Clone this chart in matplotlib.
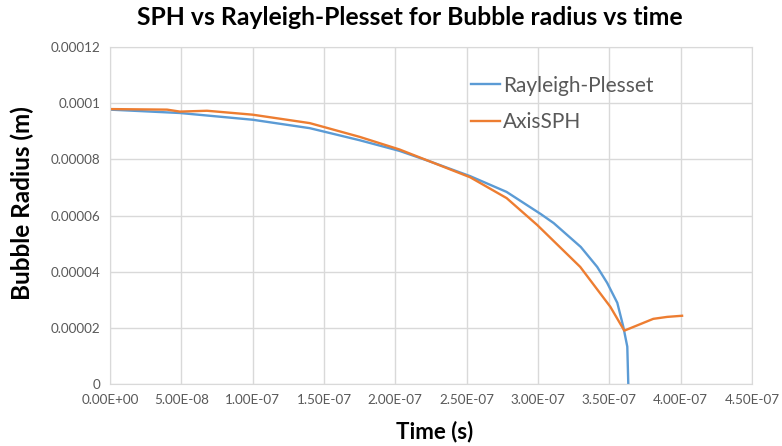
import matplotlib
matplotlib.use("Agg")
import matplotlib.pyplot as plt
from matplotlib.ticker import FuncFormatter

# Rayleigh-Plesset solution
rp_time = [0, 0.49e-7, 1.0e-7, 1.4e-7, 1.75e-7, 2.03e-7, 2.24e-7, 2.525e-7, 2.78e-7,
           3.02e-7, 3.11e-7, 3.30e-7, 3.415e-7, 3.485e-7, 3.556e-7, 3.598e-7, 3.626e-7, 3.633e-7]
rp_radius = [9.77e-5, 9.65e-5, 9.41e-5, 9.11e-5, 8.68e-5, 8.30e-5, 7.93e-5, 7.40e-5, 6.84e-5,
             6.05e-5, 5.73e-5, 4.88e-5, 4.17e-5, 3.60e-5, 2.89e-5, 2.04e-5, 1.33e-5, 0]

# AxisSPH result
sph_time = [0, 0.40e-7, 0.49e-7, 0.68e-7, 1.0e-7, 1.4e-7, 1.75e-7, 2.03e-7, 2.24e-7,
            2.525e-7, 2.78e-7, 2.995e-7, 3.296e-7, 3.507e-7, 3.605e-7, 3.808e-7, 3.906e-7, 4.01e-7]
sph_radius = [9.79e-5, 9.77e-5, 9.70e-5, 9.73e-5, 9.59e-5, 9.29e-5, 8.80e-5, 8.35e-5, 7.93e-5,
              7.36e-5, 6.62e-5, 5.66e-5, 4.17e-5, 2.75e-5, 1.90e-5, 2.32e-5, 2.39e-5, 2.43e-5]

x_ticks = [i * 0.5e-7 for i in range(10)]
y_ticks = [0, 0.00002, 0.00004, 0.00006, 0.00008, 0.0001, 0.00012]
y_labels = ["0", "0.00002", "0.00004", "0.00006", "0.00008", "0.0001", "0.00012"]

plt.rcParams["font.family"] = ["Lato", "DejaVu Sans"]

fig = plt.figure(figsize=(7.82, 4.46), dpi=100)
ax = fig.add_axes([0.1407, 0.139, 0.8209, 0.7556])

ax.plot(rp_time, rp_radius, color="#5B9BD5", lw=1.7, label="Rayleigh-Plesset")
ax.plot(sph_time, sph_radius, color="#ED7D31", lw=1.7, label="AxisSPH")

ax.set_xlim(0, 4.5e-7)
ax.set_ylim(0, 0.00012)
ax.set_xticks(x_ticks)
ax.xaxis.set_major_formatter(FuncFormatter(lambda v, p: "%.2E" % v))
ax.set_yticks(y_ticks)
ax.set_yticklabels(y_labels)
ax.tick_params(length=0, labelsize=9.7, labelcolor="#595959", pad=7)

ax.grid(True, color="#D9D9D9", lw=1)
for s in ax.spines.values():
    s.set_color("#D9D9D9")
ax.set_axisbelow(True)

# axis labels and title placed where the reference has them
fig.text(0.5563, 0.0336, "Time (s)", ha="center", va="center", fontsize=16, fontweight="bold")
fig.text(0.0281, 0.5448, "Bubble Radius (m)", ha="center", va="center", rotation=90,
         fontsize=17.5, fontweight="bold")
fig.text(0.524, 0.96, "SPH vs Rayleigh-Plesset for Bubble radius vs time", ha="center",
         va="center", fontsize=17.8, fontweight="bold")

ax.legend(loc="center left", bbox_to_anchor=(0.562, 0.831), frameon=False,
          borderpad=0, borderaxespad=0, handlelength=1.4, handletextpad=0.15,
          labelspacing=0.8, prop={"size": 15}, labelcolor="#595959")

fig.savefig("out.png", dpi=100)
